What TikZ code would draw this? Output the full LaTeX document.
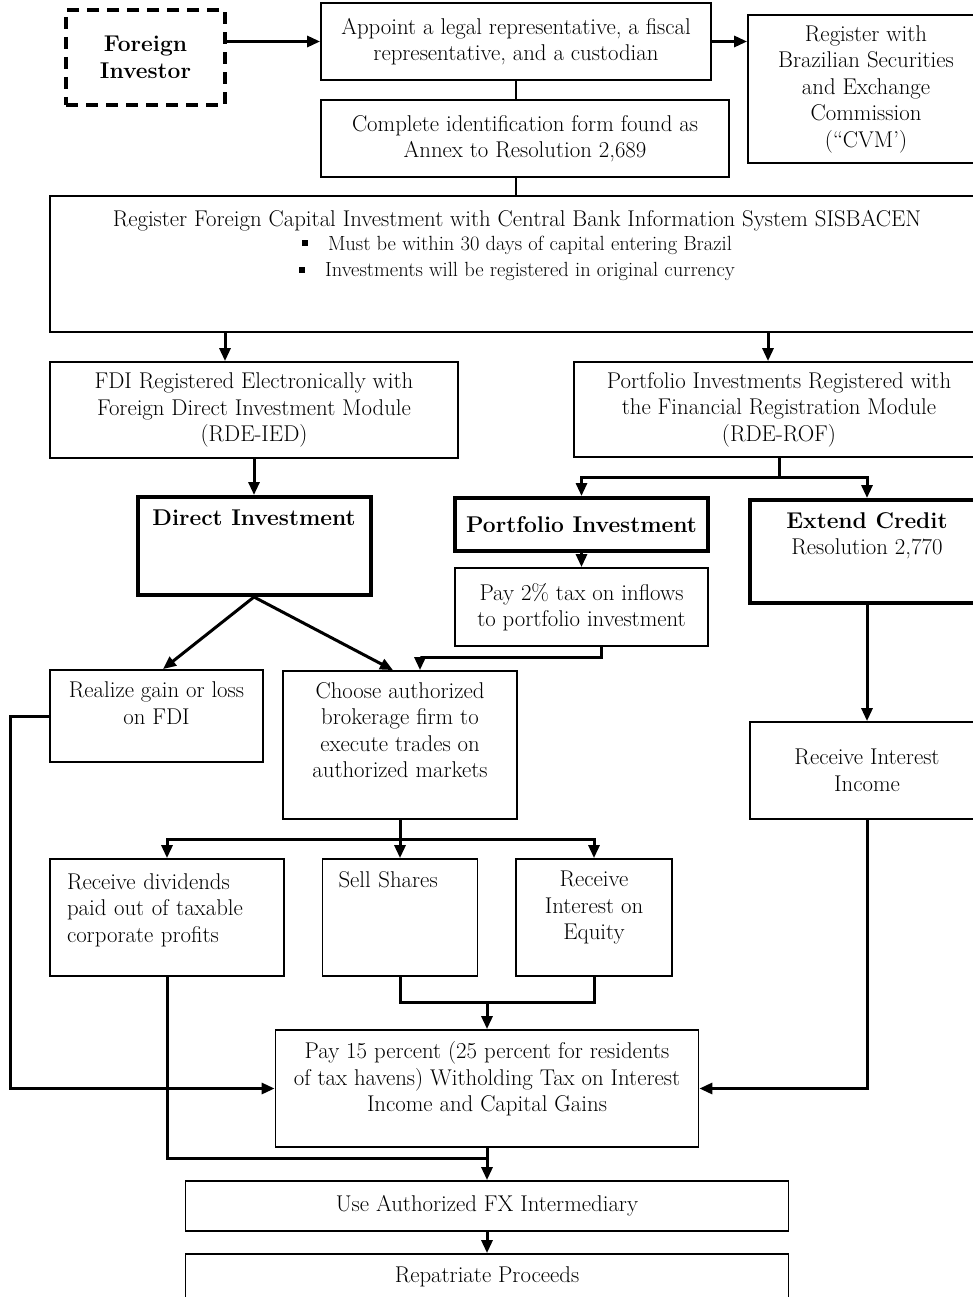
\documentclass[tikz,border=0pt]{standalone}
\usetikzlibrary{arrows.meta}
\begin{document}
\begin{tikzpicture}[x=1pt, y=-1pt, thick]

	\tikzstyle{box}=[rectangle, draw, line width=1.8pt, inner sep=0pt, align=center, font=\fontsize{22.8}{26.5}\selectfont]
	\tikzstyle{bigbox}=[box, line width=4pt, font=\fontsize{22.8}{26.5}\selectfont\bfseries]
	\tikzstyle{conn}=[line width=3pt]
	\tikzstyle{thinconn}=[line width=1.3pt]
	\tikzstyle{arr}=[-{Triangle[length=13pt, width=11pt]}]

	\useasboundingbox (0,0) rectangle (973,1297);

	% top row
	\node[bigbox, dash pattern=on 12pt off 8pt, minimum width=159pt, minimum height=95pt] (inv) at (145.5,57.5) {Foreign\\Investor};
	\node[box, minimum width=390pt, minimum height=77pt] (appoint) at (516,41.5) {Appoint a legal representative, a fiscal\\representative, and a custodian};
	\node[box, minimum width=236pt, minimum height=148pt] (cvm) at (866,89) {Register with\\Brazilian Securities\\and Exchange\\Commission\\(``CVM')};
	\node[box, minimum width=408pt, minimum height=77pt] (form) at (525,138.5) {Complete identification form found as\\Annex to Resolution 2,689};
	\node[box, minimum width=934pt, minimum height=136pt, text depth=41pt] (sis) at (517,264) {Register Foreign Capital Investment with Central Bank Information System SISBACEN\\[-2.5pt]
		{\fontsize{20.5}{26}\selectfont\rule[4pt]{6pt}{6pt}\hspace{20pt}Must be within 30 days of capital entering Brazil}\\
		{\fontsize{20.5}{26}\selectfont\rule[4pt]{6pt}{6pt}\hspace{20pt}Investments will be registered in original currency}};

	% registration modules
	\node[box, minimum width=408pt, minimum height=96pt] (fdi) at (254,410) {FDI Registered Electronically with\\Foreign Direct Investment Module\\(RDE-IED)};
	\node[box, minimum width=410pt, minimum height=95pt] (pr) at (779,409.5) {Portfolio Investments Registered with\\the Financial Registration Module\\(RDE-ROF)};

	% investment types
	\node[bigbox, minimum width=233pt, minimum height=98pt, text depth=57pt] (di) at (254,546) {Direct Investment};
	\node[bigbox, minimum width=253pt, minimum height=53pt] (pi) at (581.5,524.5) {Portfolio Investment};
	\node[bigbox, minimum width=234pt, minimum height=103pt, text depth=36pt] (ec) at (867,551.5) {Extend Credit\\\mdseries Resolution 2,770};
	\node[box, minimum width=253pt, minimum height=78pt] (p2) at (581.5,607) {Pay 2\% tax on inflows\\to portfolio investment};

	\node[box, minimum width=213pt, minimum height=92pt, text depth=26pt] (realize) at (156.5,716) {Realize gain or loss\\on FDI};
	\node[box, minimum width=234pt, minimum height=148pt, text depth=30pt] (choose) at (400,745) {Choose authorized\\brokerage firm to\\execute trades on\\authorized markets};
	\node[box, minimum width=234pt, minimum height=97pt] (rii) at (867,770.5) {Receive Interest\\Income};

	% returns
	\node[box, align=left, inner xsep=17pt, text width=200pt, minimum height=117pt, text depth=72pt] (div) at (167,917.5) {Receive dividends\\paid out of taxable\\corporate profits};
	\node[box, align=left, inner xsep=16pt, text width=123pt, minimum height=117pt, text depth=76pt] (sell) at (400,917.5) {Sell Shares};
	\node[box, minimum width=156pt, minimum height=117pt, text depth=24pt] (rie) at (594,917.5) {Receive\\Interest on\\Equity};

	\node[box, minimum width=423pt, minimum height=117pt, text depth=24pt] (pay15) at (487,1088.5) {Pay 15 percent (25 percent for residents\\of tax havens) Witholding Tax on Interest\\Income and Capital Gains};
	\node[box, minimum width=603pt, minimum height=50pt] (fx) at (487,1206) {Use Authorized FX Intermediary};
	\node[box, minimum width=603pt, minimum height=46pt] (rep) at (487,1277) {Repatriate Proceeds};

	% helper points
	\coordinate (fdiin) at ([xshift=-29pt]fdi.north);
	\coordinate (prin) at ([xshift=-11pt]pr.north);
	\coordinate (prsplit) at ([yshift=-20pt]pr.south);
	\coordinate (p2out) at ([xshift=19.5pt]p2.south);
	\coordinate (choosein) at ([xshift=20pt]choose.north);
	\coordinate (realin) at ([xshift=6.5pt]realize.north);
	\coordinate (choosein2) at ([xshift=-7pt]choose.north);
	\coordinate (chsplit) at ([yshift=-20pt]choose.south);
	\coordinate (join) at ([yshift=27pt]pay15.north);
	\coordinate (fxjoin) at ([yshift=22pt]fx.north);

	% links
	\draw[conn, arr] (inv.east |- appoint.west) -- (appoint.west);
	\draw[conn, arr] (appoint.east) -- (appoint.east -| cvm.west);
	\draw[thinconn] (appoint.south) -- (appoint.south |- form.north);
	\draw[thinconn] (appoint.south |- form.south) -- (appoint.south |- sis.north);
	\draw[conn, arr] (fdiin |- sis.south) -- (fdiin);
	\draw[conn, arr] (prin |- sis.south) -- (prin);
	\draw[conn, arr] (fdi.south) -- (di.north);
	\draw[conn] (pr.south) -- (prsplit);
	\draw[conn, arr] (prsplit) -| (pi.north);
	\draw[conn, arr] (prsplit) -| (ec.north);
	\draw[conn, arr] (pi.south) -- (p2.north);
	\draw[conn, arr] (p2out) -- ++(0,11) -| (choosein);
	\draw[conn, arr] (di.south) -- (realin);
	\draw[conn, arr] (di.south) -- (choosein2);
	\draw[conn, arr] (realize.west) -- ++(-39,0) |- (pay15.west);
	\draw[conn] (choose.south) -- (chsplit);
	\draw[conn, arr] (chsplit) -| (div.north);
	\draw[conn, arr] (chsplit) -- (sell.north);
	\draw[conn, arr] (chsplit) -| (rie.north);
	\draw[conn] (sell.south) |- (join) -| (rie.south);
	\draw[conn, arr] (join) -- (pay15.north);
	\draw[conn, arr] (ec.south) -- (rii.north);
	\draw[conn, arr] (rii.south) |- (pay15.east);
	\draw[conn] (div.south) |- (fxjoin);
	\draw[conn, arr] (pay15.south) -- (fx.north);
	\draw[conn, arr] (fx.south) -- (rep.north);

\end{tikzpicture}
\end{document}
